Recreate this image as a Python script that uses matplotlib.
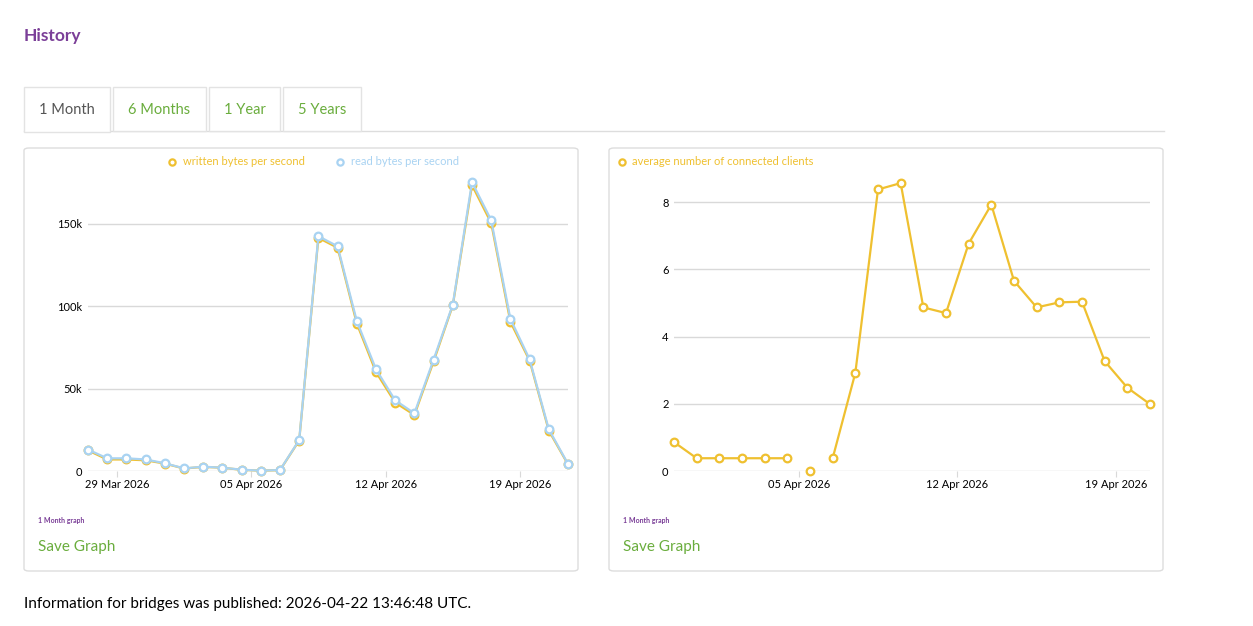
import numpy as np
import pandas as pd
import matplotlib
matplotlib.use("Agg")
import matplotlib.pyplot as plt
import matplotlib.dates as mdates
from matplotlib.patches import Rectangle, FancyBboxPatch
from matplotlib.ticker import FuncFormatter

W, H = 1253, 626
plt.rcParams['font.family'] = ['Lato', 'DejaVu Sans']

# traffic, one point per day at noon (k bytes/s)
traffic_days = pd.date_range("2026-03-27 12:00", "2026-04-21 12:00", freq="D")
written_k = [12.5, 7, 7, 6.5, 4.5, 1.5, 2.5, 2, 0.7, 0.2, 0.5, 18.5, 141.5, 135.5,
             89.5, 60, 41.5, 34, 66.5, 100.5, 173.5, 150.5, 90.5, 67, 24.5, 4]
read_k = [13, 7.7, 7.7, 7, 4.7, 1.6, 2.6, 2, 0.8, 0.2, 0.6, 18.8, 142.5, 136.4,
          91, 61.7, 42.9, 35, 67.6, 101, 175.3, 152.2, 92.3, 67.8, 25.3, 4.3]

# clients, one point per day at noon
client_days = pd.date_range("2026-03-30 12:00", "2026-04-20 12:00", freq="D")
clients = [0.86, 0.38, 0.38, 0.38, 0.38, 0.38, 0, 0.38, 2.92, 8.38, 8.57, 4.87,
           4.7, 6.77, 7.93, 5.66, 4.87, 5.02, 5.04, 3.27, 2.48, 1.99]
# the 05 Apr value stands alone (no data on either side of it)
client_breaks = ["2026-04-05 00:00", "2026-04-06 00:00"]

GOLD = "#efc030"
BLUE = "#a9d3f2"
GREEN = "#6aad3d"
PURPLE = "#7b3f98"
GRID = "#d9d9d9"

fig = plt.figure(figsize=(W / 100, H / 100), dpi=100)


def fx(x):
    return x / W


def fy(y):
    return 1 - y / H


def box(x0, y0, x1, y1, ec="#dddddd", fc="white", lw=1, rounded=False):
    if rounded:
        p = FancyBboxPatch((fx(x0), fy(y1)), fx(x1 - x0), (y1 - y0) / H,
                           boxstyle="round,pad=0,rounding_size=0.004",
                           transform=fig.transFigure, ec=ec, fc=fc, lw=lw)
    else:
        p = Rectangle((fx(x0), fy(y1)), fx(x1 - x0), (y1 - y0) / H,
                      transform=fig.transFigure, ec=ec, fc=fc, lw=lw)
    p.set_zorder(-5)
    fig.patches.append(p)


def text(x, y, s, **kw):
    fig.text(fx(x), fy(y), s, va="center", **kw)


text(24, 36, "History", color=PURPLE, fontsize=12.5, fontweight="bold")

# tabs
fig.add_artist(plt.Line2D([fx(24), fx(1164)], [fy(131), fy(131)], color="#dddddd", lw=1, zorder=-6))
tabs = [("1 Month", 24, 110), ("6 Months", 113, 206), ("1 Year", 209, 280), ("5 Years", 283, 361)]
for i, (label, x0, x1) in enumerate(tabs):
    box(x0, 87, x1, 132 if i == 0 else 131, ec="#e3e3e3")
    text((x0 + x1) / 2, 110, label, ha="center", fontsize=10.5,
         color="#555555" if i == 0 else GREEN)

# panels
for x0, x1 in [(24, 578), (609, 1163)]:
    box(x0, 148, x1, 571, rounded=True)
    text(x0 + 14, 521, "1 Month graph", color=PURPLE, fontsize=5, fontweight="bold")
    text(x0 + 14, 547, "Save Graph", color=GREEN, fontsize=11)

text(24, 604, "Information for bridges was published: 2026-04-22 13:46:48 UTC.",
     fontsize=11, color="black")


def make_axes(x0, x1, ytop=170, ybot=471):
    ax = fig.add_axes([fx(x0), fy(ybot), fx(x1 - x0), (ybot - ytop) / H])
    ax.set_facecolor("none")
    ax.set_zorder(2)
    for s in ax.spines.values():
        s.set_visible(False)
    ax.grid(axis="y", color=GRID, lw=1)
    ax.set_axisbelow(True)
    ax.tick_params(axis="y", length=0, labelsize=8, pad=4)
    ax.tick_params(axis="x", length=4, color=GRID, labelsize=8, pad=2)
    ax.xaxis.set_major_formatter(mdates.DateFormatter("%d %b %Y"))
    return ax


mk = dict(marker="o", ms=5.5, mfc="white", mew=1.6, lw=1.6, clip_on=False)

ax1 = make_axes(88, 568)
ax1.plot(traffic_days, written_k, color=GOLD, **mk)
ax1.plot(traffic_days, read_k, color=BLUE, **mk)
ax1.set_xlim(traffic_days[0], traffic_days[-1])
ax1.set_ylim(0, 182.7)
ax1.set_yticks([0, 50, 100, 150])
ax1.yaxis.set_major_formatter(FuncFormatter(lambda v, p: "0" if v == 0 else f"{v:.0f}k"))
ax1.xaxis.set_major_locator(mdates.DayLocator(bymonthday=[29, 5, 12, 19]))

fig.add_artist(plt.Line2D([fx(172)], [fy(162)], marker="o", ms=4.5, mfc="white", mec=GOLD, mew=1.6))
text(183, 162, "written bytes per second", color=GOLD, fontsize=8)
fig.add_artist(plt.Line2D([fx(340)], [fy(162)], marker="o", ms=4.5, mfc="white", mec=BLUE, mew=1.6))
text(351, 162, "read bytes per second", color=BLUE, fontsize=8)

# clients: insert breaks so the isolated point has no connecting line
cs = pd.Series(clients, index=client_days)
cs = pd.concat([cs, pd.Series(np.nan, index=pd.to_datetime(client_breaks))]).sort_index()

ax2 = make_axes(674, 1150)
ax2.plot(cs.index, cs.values, color=GOLD, **mk)
ax2.set_xlim(client_days[0], client_days[-1])
ax2.set_ylim(0, 8.96)
ax2.set_yticks([0, 2, 4, 6, 8])
ax2.xaxis.set_major_locator(mdates.DayLocator(bymonthday=[5, 12, 19]))

fig.add_artist(plt.Line2D([fx(622)], [fy(162)], marker="o", ms=4.5, mfc="white", mec=GOLD, mew=1.6))
text(632, 162, "average number of connected clients", color=GOLD, fontsize=8)

fig.savefig("out.png", dpi=100)
